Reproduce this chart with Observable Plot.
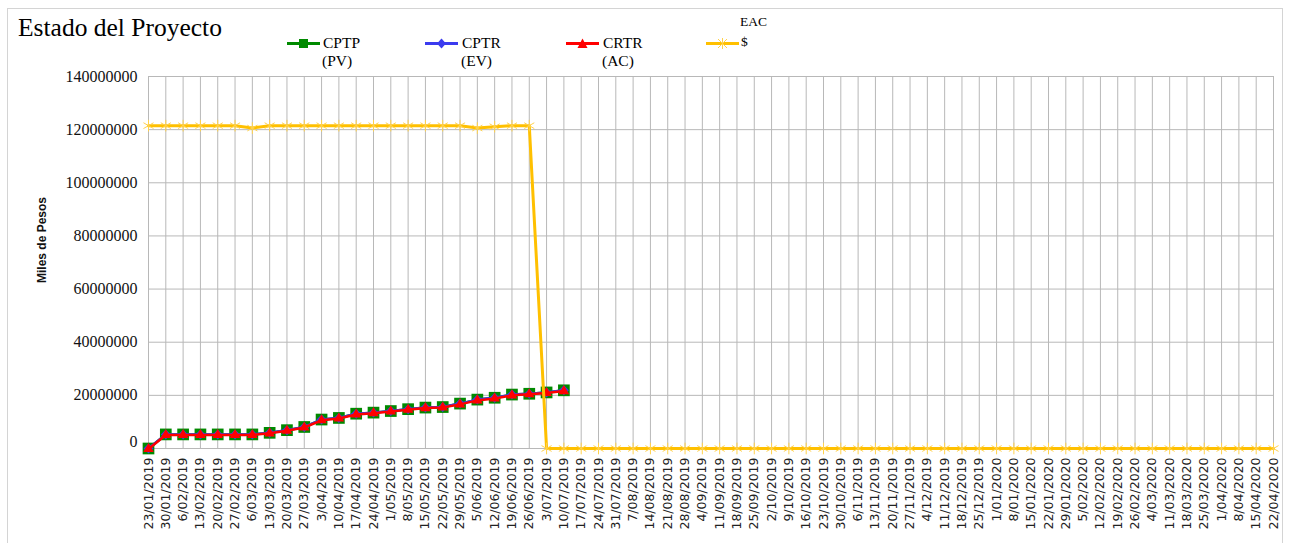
<!DOCTYPE html>
<html><head><meta charset="utf-8">
<script src="https://cdn.jsdelivr.net/npm/d3@7"></script>
<script src="https://cdn.jsdelivr.net/npm/@observablehq/plot@0.6"></script>
<style>
body{margin:0;background:#fff;}
#wrap{position:relative;width:1289px;height:543px;overflow:hidden;background:#fff;}
#frame{position:absolute;left:7px;top:8px;width:1276px;height:600px;border:1px solid #d4d4d4;box-sizing:border-box;}
#chart{position:absolute;left:0;top:0;}
.t{position:absolute;white-space:nowrap;font-family:"Liberation Serif",serif;color:#000;line-height:1;}
.sw{position:absolute;}
#chart g[aria-label^="y-axis"] text{font-family:"Liberation Serif",serif !important;font-size:16px !important;}
#chart g[aria-label^="x-axis"] text{font-family:"DejaVu Sans",sans-serif !important;font-size:12.5px !important;}
</style></head>
<body><div id="wrap"><div id="frame"></div><div id="chart"></div></div>
<script>
// ---- data ----
const dates = ["23/01/2019","30/01/2019","6/02/2019","13/02/2019","20/02/2019","27/02/2019","6/03/2019","13/03/2019","20/03/2019","27/03/2019","3/04/2019","10/04/2019","17/04/2019","24/04/2019","1/05/2019","8/05/2019","15/05/2019","22/05/2019","29/05/2019","5/06/2019","12/06/2019","19/06/2019","26/06/2019","3/07/2019","10/07/2019","17/07/2019","24/07/2019","31/07/2019","7/08/2019","14/08/2019","21/08/2019","28/08/2019","4/09/2019","11/09/2019","18/09/2019","25/09/2019","2/10/2019","9/10/2019","16/10/2019","23/10/2019","30/10/2019","6/11/2019","13/11/2019","20/11/2019","27/11/2019","4/12/2019","11/12/2019","18/12/2019","25/12/2019","1/01/2020","8/01/2020","15/01/2020","22/01/2020","29/01/2020","5/02/2020","12/02/2020","19/02/2020","26/02/2020","4/03/2020","11/03/2020","18/03/2020","25/03/2020","1/04/2020","8/04/2020","15/04/2020","22/04/2020"];
const cptpPV = [0,5300000,5300000,5300000,5300000,5300000,5300000,5900000,6900000,8100000,10900000,11500000,13100000,13500000,14100000,14800000,15400000,15600000,16900000,18400000,19100000,20300000,20600000,21100000,21900000];
const cptrEV = [0,5300000,5300000,5300000,5300000,5300000,5300000,5900000,6900000,8100000,10900000,11500000,13100000,13500000,14100000,14800000,15400000,15600000,16900000,18400000,19100000,20300000,20600000,21100000,21900000];
const crtrAC = [-200000,5100000,5100000,5100000,5100000,5100000,5100000,5700000,6700000,7900000,10600000,11300000,12800000,13300000,13900000,14600000,15200000,15400000,16600000,18100000,18800000,20000000,20400000,20900000,21600000];
const eac = [121500000,121500000,121500000,121500000,121500000,121500000,120600000,121500000,121500000,121500000,121500000,121500000,121500000,121500000,121500000,121500000,121500000,121500000,121500000,120600000,121100000,121500000,121500000,0,0,0,0,0,0,0,0,0,0,0,0,0,0,0,0,0,0,0,0,0,0,0,0,0,0,0,0,0,0,0,0,0,0,0,0,0,0,0,0,0,0,0];
const yTicks = [0,20000000,40000000,60000000,80000000,100000000,120000000,140000000];
const seriesNames = ["CPTP","CPTR","CRTR","EAC"];
const seriesSub = ["(PV)","(EV)","(AC)","$"];

const rows = vals => vals.map((v,i)=>({date:dates[i], value:v}));
const grid = "#b8b8b8";
const cGreen="#008a00", cBlue="#3b3bef", cRed="#ff0000", cGold="#ffc000", cStar="#ffd24d";

const chart = Plot.plot({
  width:1289, height:543,
  marginTop:76, marginBottom:95, marginLeft:148, marginRight:16,
  x:{type:"point", domain:dates, padding:0, round:false},
  y:{domain:[0,140000000]},
  style:{background:"transparent", overflow:"visible"},
  marks:[
    Plot.gridY(yTicks, {stroke:grid, strokeOpacity:1}),
    Plot.gridX(dates, {stroke:grid, strokeOpacity:1}),
    Plot.axisX({tickRotate:-90, tickSize:0, tickPadding:9, fontSize:12.5, fontFamily:"DejaVu Sans", fill:"#222", label:null}),
    Plot.axisY(yTicks.filter(d=>d>0), {tickSize:0, tickPadding:11, fontSize:16, fontFamily:"Liberation Serif", fill:"#111", tickFormat:d=>String(d), label:null}),
    Plot.axisY([0], {tickSize:0, tickPadding:11, dy:-7, fontSize:16, fontFamily:"Liberation Serif", fill:"#111", tickFormat:d=>String(d), label:null}),
    Plot.line(rows(cptpPV), {x:"date", y:"value", stroke:cGreen, strokeWidth:2.5}),
    Plot.dot(rows(cptpPV), {x:"date", y:"value", symbol:"square", fill:cGreen, r:6.6}),
    Plot.line(rows(cptrEV), {x:"date", y:"value", stroke:cBlue, strokeWidth:2.5}),
    Plot.dot(rows(cptrEV), {x:"date", y:"value", symbol:"diamond2", fill:cBlue, r:4.5}),
    Plot.line(rows(crtrAC), {x:"date", y:"value", stroke:cRed, strokeWidth:2.5}),
    Plot.dot(rows(crtrAC), {x:"date", y:"value", symbol:"triangle2", fill:cRed, r:5}),
    Plot.line(rows(eac), {x:"date", y:"value", stroke:cGold, strokeWidth:3}),
    Plot.dot(rows(eac), {x:"date", y:"value", symbol:"asterisk", stroke:cStar, strokeWidth:1, r:5.5})
  ]
});
d3.select(chart).selectAll('g[aria-label^="y-axis"] text').style("font-family","'Liberation Serif', serif").style("font-size","16px");
document.getElementById("chart").appendChild(chart);

// ---- title, axis label, legend ----
const wrap = document.getElementById("wrap");
function addText(txt, left, top, size, extra){
  const d=document.createElement("div"); d.className="t"; d.textContent=txt;
  d.style.left=left+"px"; d.style.top=top+"px"; d.style.fontSize=size+"px";
  if(extra) Object.assign(d.style, extra);
  wrap.appendChild(d); return d;
}
addText("Estado del Proyecto", 18, 15, 25.5);
addText("Miles de Pesos", 42, 240, 12, {fontFamily:"Liberation Sans, sans-serif", fontWeight:"bold", transform:"translate(-50%,-50%) rotate(-90deg)", color:"#111"});

const legendColors=[cGreen,cBlue,cRed,cGold];
const legendShapes=[
  '<rect x="12" y="2" width="9" height="9"/>',
  '<path d="M16.5 1.5 L21 6.5 L16.5 11.5 L12 6.5Z"/>',
  '<path d="M16.5 1.5 L21.5 11 L11.5 11Z"/>',
  ''
];
const swX=[287,425,566,706], txX=[323,462,603,741];
legendColors.forEach((c,i)=>{
  const s=document.createElement("div"); s.className="sw";
  s.style.left=swX[i]+"px"; s.style.top="36px";
  const marker = i<3 ? legendShapes[i].replace(/\/>$/, ` fill="${c}"/>`) :
    `<path d="M12 2 L21 11 M21 2 L12 11 M16.5 1 L16.5 12" stroke="${cStar}" stroke-width="1"/>`;
  s.innerHTML=`<svg width="34" height="13"><line x1="0" x2="33" y1="6.5" y2="6.5" stroke="${c}" stroke-width="3"/>${marker}</svg>`;
  wrap.appendChild(s);
  if(i<3){
    addText(seriesNames[i], txX[i], 35, 15.5);
    addText(seriesSub[i], txX[i]-1, 53, 15.5);
  } else {
    addText(seriesNames[i], txX[i]-1, 15, 13.5);
    addText(seriesSub[i], txX[i], 35, 13.5);
  }
});
</script>
</body></html>
